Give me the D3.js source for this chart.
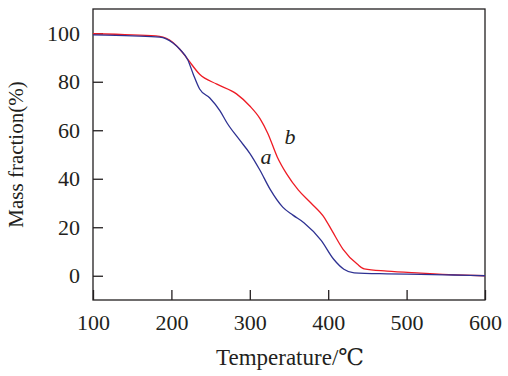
<!DOCTYPE html>
<html lang="en">
<head>
  <meta charset="UTF-8">
  <title>TG curves</title>
  <script src="https://d3js.org/d3.v7.min.js"></script>
  <style>
    body { margin: 0; padding: 0; background: #fff; }
    text { font-family: "Liberation Serif", "DejaVu Serif", serif; fill: #231f20; }
  </style>
</head>
<body>
  <div id="chart"></div>
  <script>
    // curve a (blue)
    const tempA = [100, 150, 185, 202, 211, 221, 228, 236, 249, 262, 271, 287, 300, 313, 326, 342, 355, 369, 391, 407, 420, 433, 475, 518, 560, 600];
    const massA = [99.3, 98.9, 98.4, 96.0, 93.3, 89.0, 83.0, 77.0, 73.3, 68.0, 63.0, 56.0, 50.5, 43.5, 35.6, 28.3, 25.0, 21.9, 14.6, 6.8, 2.7, 1.2, 0.8, 0.6, 0.3, 0];
    // curve b (red)
    const tempB = [100, 150, 185, 202, 211, 221, 236, 258, 283, 300, 313, 323, 335, 347, 362, 378, 395, 405, 419, 437, 446, 475, 518, 561, 600];
    const massB = [99.8, 99.3, 98.7, 96.2, 93.3, 89.2, 83.1, 79.0, 75.0, 70.0, 64.8, 58.7, 49.0, 42.0, 35.3, 30.0, 24.0, 18.5, 10.9, 4.8, 2.8, 1.9, 1.1, 0.4, 0];

    const xTicks = [100, 200, 300, 400, 500, 600];
    const yTicks = [0, 20, 40, 60, 80, 100];

    const width = 508, height = 376;
    const margin = { left: 93, top: 9, right: 23, bottom: 76 };

    const svg = d3.select("#chart").append("svg")
      .attr("width", width)
      .attr("height", height);

    const x = d3.scaleLinear().domain([100, 600]).range([margin.left, width - margin.right]);
    const y = d3.scaleLinear().domain([-10, 110]).range([height - margin.bottom, margin.top]);

    // frame
    svg.append("rect")
      .attr("x", x(100)).attr("y", y(110))
      .attr("width", x(600) - x(100)).attr("height", y(-10) - y(110))
      .attr("fill", "none").attr("stroke", "#231f20").attr("stroke-width", 1.3);

    // inward ticks
    svg.append("g")
      .attr("transform", `translate(0,${y(-10)})`)
      .call(d3.axisBottom(x).tickValues(xTicks).tickSizeInner(-10).tickSizeOuter(0).tickPadding(14))
      .call(g => g.select(".domain").remove())
      .call(g => g.selectAll("line").attr("stroke", "#231f20").attr("stroke-width", 1.3))
      .call(g => g.selectAll("text").attr("font-size", 22).attr("fill", "#231f20"));

    svg.append("g")
      .attr("transform", `translate(${x(100)},0)`)
      .call(d3.axisLeft(y).tickValues(yTicks).tickSizeInner(-10).tickSizeOuter(0).tickPadding(13))
      .call(g => g.select(".domain").remove())
      .call(g => g.selectAll("line").attr("stroke", "#231f20").attr("stroke-width", 1.3))
      .call(g => g.selectAll("text").attr("font-size", 22).attr("fill", "#231f20"));

    const line = d3.line()
      .x(d => x(d[0]))
      .y(d => y(d[1]))
      .curve(d3.curveMonotoneX);

    svg.append("path")
      .datum(d3.zip(tempB, massB))
      .attr("d", line)
      .attr("fill", "none")
      .attr("stroke", "#ee1c25")
      .attr("stroke-width", 1.3);

    svg.append("path")
      .datum(d3.zip(tempA, massA))
      .attr("d", line)
      .attr("fill", "none")
      .attr("stroke", "#2e3192")
      .attr("stroke-width", 1.3);

    // curve labels
    svg.append("text")
      .attr("x", 266).attr("y", 164)
      .attr("font-size", 22).attr("font-style", "italic")
      .attr("text-anchor", "middle")
      .text("a");
    svg.append("text")
      .attr("x", 290).attr("y", 144)
      .attr("font-size", 22).attr("font-style", "italic")
      .attr("text-anchor", "middle")
      .text("b");

    // axis titles
    svg.append("text")
      .attr("x", 290).attr("y", 365)
      .attr("text-anchor", "middle")
      .attr("font-size", 23)
      .text("Temperature/℃");

    svg.append("text")
      .attr("transform", `translate(23,${y(50)}) rotate(-90)`)
      .attr("text-anchor", "middle")
      .attr("font-size", 21)
      .text("Mass fraction(%)");
  </script>
</body>
</html>
